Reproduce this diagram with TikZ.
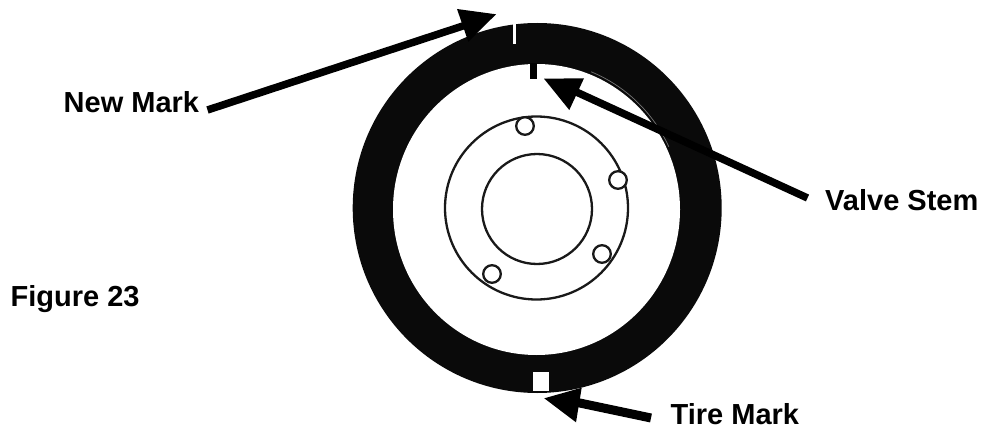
\documentclass[tikz,border=0pt]{standalone}
\usepackage{fontspec}
\setmainfont{Liberation Sans}
\tikzset{
  lbl/.style={anchor=base west,inner sep=0pt,font=\bfseries\fontsize{29}{32}\selectfont,text=black},
  shaft/.style={draw=black,line width=#1,line cap=butt},
  headtip/.style={fill=black,draw=none},
  thinring/.style={draw=black!90,line width=2.3pt,fill=none},
  lug/.style={draw=black!90,line width=2.3pt,fill=white},
  tyre/.style={fill=black!96,draw=none},
}
\begin{document}
\begin{tikzpicture}[x=1pt,y=-1pt]
\useasboundingbox (0,0) rectangle (983,428);
% tyre
\fill[tyre] (537.2,208) ellipse[x radius=184.5pt,y radius=185pt];
\fill[white] (536.5,209.5) ellipse[x radius=143.5pt,y radius=145.5pt];
\draw[black!55,line width=0.7pt] ([shift={(68:146pt and 148.5pt)}]536.5,209.5) arc[start angle=68,end angle=25,x radius=146pt,y radius=148.5pt];
% marks
\fill[white] (513,24) rectangle (515.5,44);
\fill[black] (529.5,63) rectangle (537,79);
\fill[white] (532.5,372) rectangle (549,391);
% hub
\draw[thinring] (536.5,208) circle[radius=91.5pt];
\draw[thinring] (537,209) circle[radius=55pt];
\draw[lug] (525,126) circle[radius=8.8pt];
\draw[lug] (618,180) circle[radius=8.8pt];
\draw[lug] (602,254) circle[radius=8.8pt];
\draw[lug] (492,274) circle[radius=8.8pt];
% labels
\node[lbl] (newmark) at (63.5,113) {New Mark};
\node[lbl] (valvestem) at (825,210) {Valve Stem};
\node[lbl] (tiremark) at (670.5,424.5) {Tire Mark};
\node[lbl] (figure) at (10.5,306) {Figure 23};
% arrows
\coordinate (newtail) at (207.5,110);
\coordinate (newtip) at (478,21);
\coordinate (valvetail) at (807.5,198);
\coordinate (valvetip) at (572,90);
\coordinate (tiretail) at (651,418);
\coordinate (tiretip) at (575,402);
\draw[shaft=7.5pt] (newtail) -- (newtip);
\fill[headtip] (457,9) -- (496,14.3) -- (468.3,41.7) -- cycle;
\draw[shaft=7.5pt] (valvetail) -- (valvetip);
\fill[headtip] (544,78.7) -- (584,78.3) -- (569.3,110) -- cycle;
\draw[shaft=9pt] (tiretail) -- (tiretip);
\fill[headtip] (544.3,398.3) -- (581.7,387.7) -- (576,422.3) -- cycle;
\end{tikzpicture}
\end{document}
